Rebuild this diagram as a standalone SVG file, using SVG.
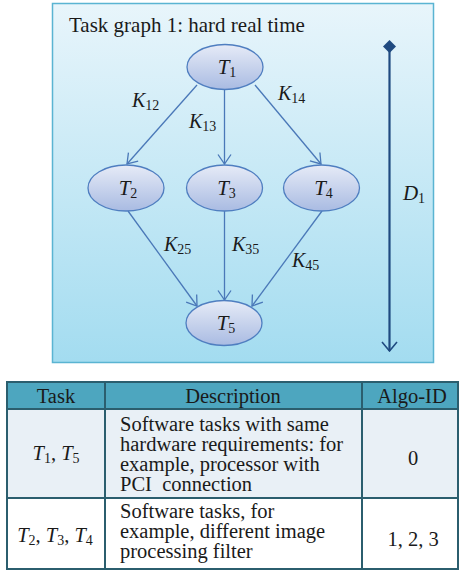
<svg xmlns="http://www.w3.org/2000/svg" width="462" height="571" viewBox="0 0 462 571">
  <defs>
    <linearGradient id="panelFill" x1="0" y1="0" x2="0" y2="1">
      <stop offset="0" stop-color="#e8f5fb"/>
      <stop offset="1" stop-color="#a3dcf0"/>
    </linearGradient>
    <linearGradient id="nodeFill" x1="0" y1="0" x2="0" y2="1">
      <stop offset="0" stop-color="#e6ebf7"/>
      <stop offset="1" stop-color="#a9bbe2"/>
    </linearGradient>
    <marker id="vhead" viewBox="0 0 12 16" refX="11" refY="8" markerWidth="12" markerHeight="16" markerUnits="userSpaceOnUse" orient="auto">
      <path d="M1.5,1.5 L11,8 L1.5,14.5" fill="none" stroke="#4a78b8" stroke-width="1.3"/>
    </marker>
    <marker id="dhead" viewBox="0 0 12 18" refX="11" refY="9" markerWidth="12" markerHeight="18" markerUnits="userSpaceOnUse" orient="auto">
      <path d="M2,1.5 L11,9 L2,16.5" fill="none" stroke="#1f4a80" stroke-width="1.6"/>
    </marker>
  </defs>
  <style>
    text { font-family: "Liberation Serif", "DejaVu Serif", serif; fill: #1a1a1a; }
    .title { font-size: 21px; }
    .node ellipse { fill: url(#nodeFill); stroke: #4f7ec0; stroke-width: 1.3; }
    .nl { font-size: 21px; font-style: italic; text-anchor: middle; }
    .sub { font-style: normal; font-size: 14px; }
    .kl { font-size: 20px; font-style: italic; }
    .edge { stroke: #4a78b8; stroke-width: 1.3; fill: none; marker-end: url(#vhead); }
    .hdr { fill: #4da6bf; }
    .grid { fill: none; stroke: #2b5e6e; stroke-width: 2; }
    .th { font-size: 20.5px; text-anchor: middle; }
    .td { font-size: 20.5px; }
    .tc { font-size: 20.5px; text-anchor: middle; }
    .ts { font-size: 14px; }
  </style>

  <!-- panel -->
  <rect x="52.5" y="3.5" width="381" height="359" fill="url(#panelFill)" stroke="#5ab4d2" stroke-width="1.5"/>
  <text class="title" x="69" y="32">Task graph 1: hard real time</text>

  <!-- connectors -->
  <g id="connectors">
    <line class="edge" x1="197" y1="85" x2="127" y2="164"/>
    <line class="edge" x1="224.5" y1="90" x2="224.5" y2="164"/>
    <line class="edge" x1="255" y1="85" x2="321" y2="164"/>
    <line class="edge" x1="128" y1="211" x2="197" y2="306"/>
    <line class="edge" x1="224.5" y1="211" x2="224.5" y2="300"/>
    <line class="edge" x1="322" y1="211" x2="252" y2="306"/>
    <text class="kl" x="132" y="107">K<tspan class="sub" dy="3">12</tspan></text>
    <text class="kl" x="189" y="128">K<tspan class="sub" dy="3">13</tspan></text>
    <text class="kl" x="278" y="100">K<tspan class="sub" dy="3">14</tspan></text>
    <text class="kl" x="164" y="251">K<tspan class="sub" dy="3">25</tspan></text>
    <text class="kl" x="232" y="251">K<tspan class="sub" dy="3">35</tspan></text>
    <text class="kl" x="292" y="267">K<tspan class="sub" dy="3">45</tspan></text>
  </g>

  <!-- deadline span -->
  <g id="deadline">
    <line x1="389.5" y1="47" x2="389.5" y2="351" stroke="#1f4a80" stroke-width="2.2" marker-end="url(#dhead)"/>
    <path d="M389.5,40 L396,46.5 L389.5,53 L383,46.5 Z" fill="#1f4a80"/>
    <text class="nl" x="414" y="200">D<tspan class="sub" dy="3">1</tspan></text>
  </g>

  <!-- task nodes -->
  <g id="T1" class="node">
    <ellipse cx="225" cy="67" rx="38" ry="22.5"/>
    <text class="nl" x="227" y="74">T<tspan class="sub" dy="3">1</tspan></text>
  </g>
  <g id="T2" class="node">
    <ellipse cx="126" cy="188" rx="38" ry="23"/>
    <text class="nl" x="128" y="195">T<tspan class="sub" dy="3">2</tspan></text>
  </g>
  <g id="T3" class="node">
    <ellipse cx="224.5" cy="188" rx="38" ry="23"/>
    <text class="nl" x="226.5" y="195">T<tspan class="sub" dy="3">3</tspan></text>
  </g>
  <g id="T4" class="node">
    <ellipse cx="321.5" cy="188" rx="38" ry="23"/>
    <text class="nl" x="323.5" y="195">T<tspan class="sub" dy="3">4</tspan></text>
  </g>
  <g id="T5" class="node">
    <ellipse cx="224" cy="323" rx="38" ry="22.5"/>
    <text class="nl" x="226" y="330">T<tspan class="sub" dy="3">5</tspan></text>
  </g>

  <!-- task table -->
  <g id="table">
    <rect class="hdr" x="7" y="382" width="451" height="27"/>
    <rect x="7" y="409" width="451" height="89" fill="#e9f0f6"/>
    <rect x="7" y="498" width="451" height="71" fill="#ffffff"/>
    <rect class="grid" x="7" y="382" width="451" height="187"/>
    <line class="grid" x1="7" y1="409" x2="458" y2="409"/>
    <line class="grid" x1="7" y1="498" x2="458" y2="498"/>
    <line class="grid" x1="105" y1="382" x2="105" y2="569"/>
    <line class="grid" x1="362" y1="382" x2="362" y2="569"/>

    <text class="th" x="56" y="403">Task</text>
    <text class="th" x="233" y="403">Description</text>
    <text class="th" x="412" y="403">Algo-ID</text>

    <text class="tc" x="56" y="460"><tspan font-style="italic">T</tspan><tspan class="ts" dy="3">1</tspan><tspan dy="-3">, </tspan><tspan font-style="italic">T</tspan><tspan class="ts" dy="3">5</tspan></text>
    <text class="td" x="120" y="431">Software tasks with same</text>
    <text class="td" x="120" y="451">hardware requirements: for</text>
    <text class="td" x="120" y="471">example, processor with</text>
    <text class="td" x="120" y="491" xml:space="preserve">PCI  connection</text>
    <text class="tc" x="413" y="465">0</text>

    <text class="tc" x="55" y="542"><tspan font-style="italic">T</tspan><tspan class="ts" dy="3">2</tspan><tspan dy="-3">, </tspan><tspan font-style="italic">T</tspan><tspan class="ts" dy="3">3</tspan><tspan dy="-3">, </tspan><tspan font-style="italic">T</tspan><tspan class="ts" dy="3">4</tspan></text>
    <text class="td" x="120" y="518">Software tasks, for</text>
    <text class="td" x="120" y="538">example, different image</text>
    <text class="td" x="120" y="558">processing filter</text>
    <text class="tc" x="413" y="546">1, 2, 3</text>
  </g>
</svg>
